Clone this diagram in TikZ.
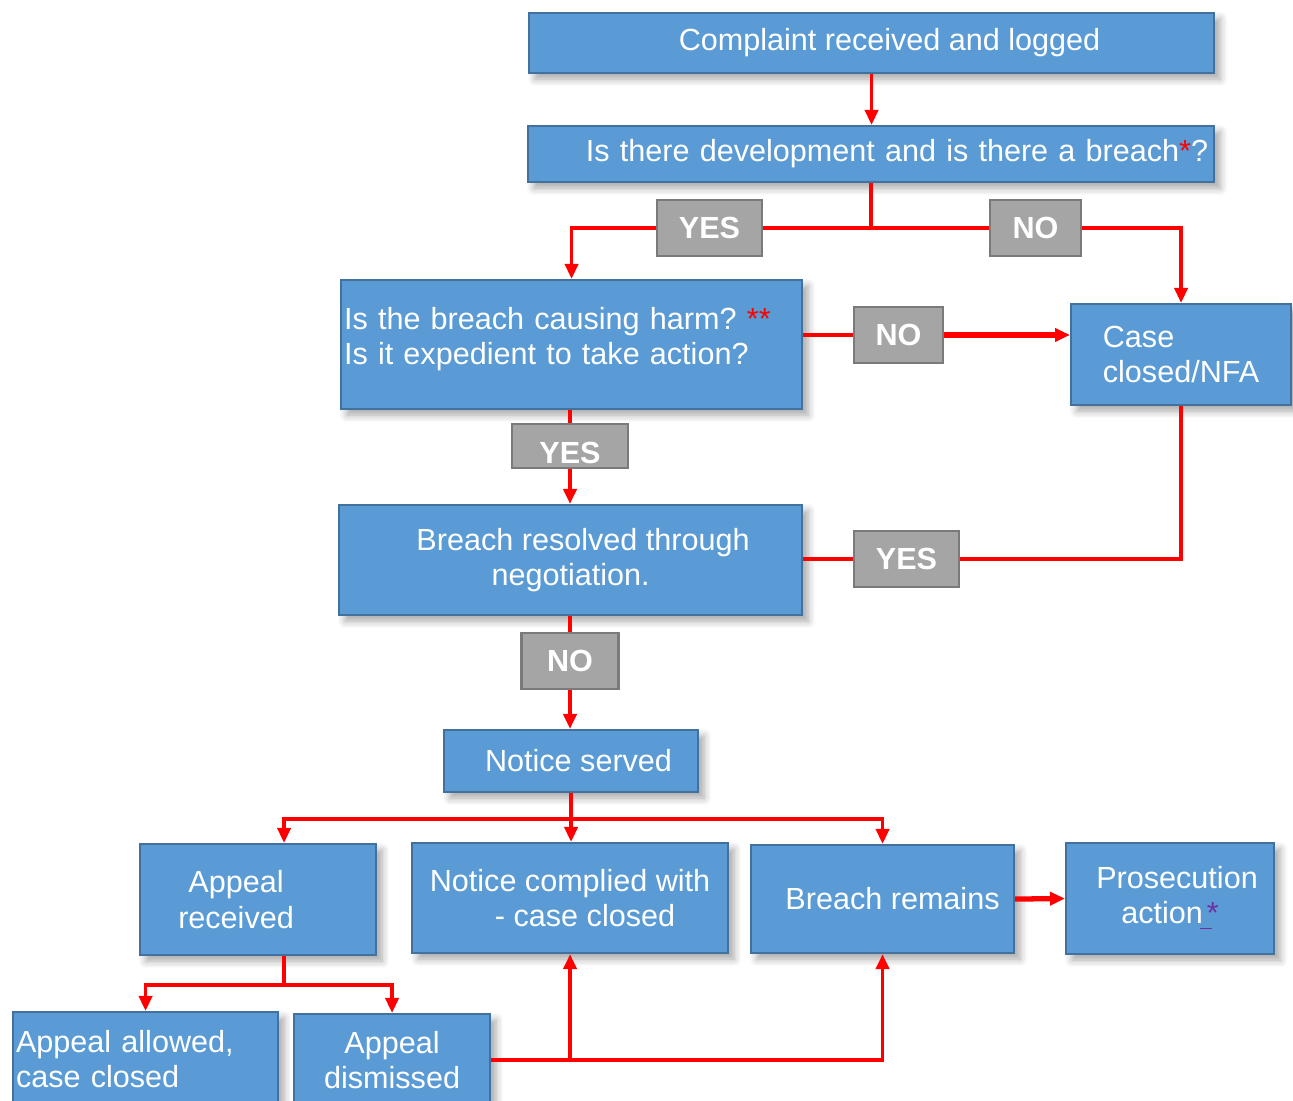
\documentclass[tikz,border=0pt]{standalone}
\usepackage{fontspec}
\setmainfont{Liberation Sans}
\frenchspacing
\usepackage{tikz}
\usetikzlibrary{positioning,arrows.meta,shadows.blur}

\definecolor{boxblue}{HTML}{5B9BD5}
\definecolor{boxline}{HTML}{41719C}
\definecolor{answergray}{HTML}{A5A5A5}
\definecolor{answerline}{HTML}{7A7A7A}
\definecolor{flowred}{HTML}{FF0000}
\definecolor{linkpurple}{HTML}{7030A0}

\tikzset{
  stepbox/.style={draw=boxline, fill=boxblue, line width=0.6pt, text=white,
    font=\fontsize{8.7}{10}\selectfont, anchor=north west, inner xsep=0.03cm,
    align=center,
    blur shadow={shadow xshift=0.06cm, shadow yshift=-0.06cm, shadow opacity=35, shadow blur steps=6}},
  answer/.style={draw=answerline, fill=answergray, line width=0.6pt, text=white,
    font=\fontsize{8.7}{10}\selectfont\bfseries, inner sep=0pt},
  flow/.style={draw=flowred, line width=1.1pt},
  flowarrow/.style={flow, -{Triangle[length=0.15cm,width=0.13cm]}},
}

\begin{document}
\begin{tikzpicture}
  \path[use as bounding box] (0,0) rectangle (12.93,-11.01);
  \clip (0,0) rectangle (12.93,-11.01);

  % main steps
  \node[stepbox, minimum width=6.85cm, minimum height=0.60cm] (complaint) at (5.28,-0.12) {\hspace*{0.36cm}Complaint received and logged};
  \node[stepbox, minimum width=6.86cm, minimum height=0.56cm, inner xsep=0.06cm, text width=6.74cm, align=right] (question) at (5.27,-1.25) {Is there development and is there a breach{\color{flowred}*}?};
  \node[stepbox, minimum width=4.61cm, minimum height=1.29cm, text width=4.55cm, text depth=0.52cm, align=left] (harm) at (3.40,-2.79) {Is the breach causing harm? {\color{flowred}**}\\Is it expedient to take action?};
  \node[stepbox, minimum width=2.20cm, minimum height=1.01cm, align=left] (closed) at (10.70,-3.03) {Case\\closed/NFA};
  \node[stepbox, minimum width=4.63cm, minimum height=1.10cm] (resolved) at (3.38,-5.04) {\hspace*{0.25cm}Breach resolved through\\negotiation.};
  \node[stepbox, minimum width=2.54cm, minimum height=0.62cm] (notice) at (4.43,-7.29) {\hspace*{0.15cm}Notice served};

  % outcomes of the notice
  \node[stepbox, minimum width=2.36cm, minimum height=1.11cm] (appeal) at (1.39,-8.43) {Appeal\hspace*{0.44cm}\\received\hspace*{0.44cm}};
  \node[stepbox, minimum width=3.16cm, minimum height=1.10cm] (complied) at (4.11,-8.42) {Notice complied with\\\hspace*{0.3cm}- case closed};
  \node[stepbox, minimum width=2.63cm, minimum height=1.08cm] (remains) at (7.50,-8.44) {\hspace*{0.2cm}Breach remains};
  \node[stepbox, minimum width=2.08cm, minimum height=1.11cm] (prosecution) at (10.65,-8.42) {\hspace*{0.14cm}Prosecution\\action\textcolor{linkpurple}{\hspace{-0.03cm}\underline{\hspace{0.12cm}}\hspace{-0.05cm}*}};
  \node[stepbox, minimum width=2.65cm, minimum height=0.94cm, text width=2.59cm, align=left] (allowed) at (0.12,-10.11) {Appeal allowed,\\case closed};
  \node[stepbox, minimum width=1.96cm, minimum height=0.92cm] (dismissed) at (2.93,-10.13) {Appeal\\dismissed};

  % answers
  \node[answer, minimum width=1.05cm, minimum height=0.56cm] (yes1) at (7.095,-2.28) {YES};
  \node[answer, minimum width=0.91cm, minimum height=0.56cm] (no1) at (10.355,-2.28) {NO};
  \node[answer, minimum width=0.89cm, minimum height=0.56cm] (no2) at (8.985,-3.35) {NO};
  \node[answer, minimum width=1.16cm, minimum height=0.44cm, text height=0.35cm, text depth=0cm] (yes2) at (5.70,-4.46) {YES};
  \node[answer, minimum width=1.05cm, minimum height=0.56cm] (yes3) at (9.065,-5.59) {YES};
  \node[answer, minimum width=0.97cm, minimum height=0.56cm] (no3) at (5.70,-6.61) {NO};

  \coordinate (split) at (question.south |- yes1);
  \coordinate (fan) at ([yshift=-0.26cm]notice.south);
  \coordinate (appealtop) at ([xshift=0.26cm]appeal.north);
  \coordinate (appealbottom) at ([xshift=0.26cm]appeal.south);
  \coordinate (branch) at ([yshift=-0.29cm]appealbottom);
  \coordinate (merge) at (complied.south |- dismissed.east);

  %complaint>question
  \draw[flowarrow] (complaint.south) -- (complaint.south |- question.north);

  %question>yes/no
  \draw[flow] (question.south) -- (split);
  \draw[flow] (split) -- (yes1.east);
  \draw[flowarrow] (yes1.west) -| (harm.north);
  \draw[flow] (split) -- (no1.west);
  \draw[flowarrow] (no1.east) -| (closed.north);

  %harm>closed, harm>resolved
  \draw[flow] (no2.west -| harm.east) -- (no2.west);
  \draw[flowarrow, line width=1.5pt] (no2.east) -- (no2.east -| closed.west);
  \draw[flow] (harm.south -| yes2.north) -- (yes2.north);
  \draw[flowarrow] (yes2.south) -- (yes2.south |- resolved.north);

  %closed>resolved
  \draw[flow] (closed.south) |- (yes3.east);
  \draw[flow] (yes3.west) -- (yes3.west -| resolved.east);

  %resolved>notice
  \draw[flow] (resolved.south -| no3.north) -- (no3.north);
  \draw[flowarrow] (no3.south) -- (no3.south |- notice.north);

  %notice>outcomes
  \draw[flow] (notice.south) -- (fan);
  \draw[flowarrow] (fan) -| (appealtop);
  \draw[flowarrow] (fan) -- (fan |- complied.north);
  \draw[flowarrow] (fan) -| (remains.north);

  %appeal>allowed/dismissed
  \draw[flow] (appealbottom) -- (branch);
  \draw[flowarrow] (branch) -| (allowed.north);
  \draw[flowarrow] (branch) -| (dismissed.north);

  %dismissed>complied/remains
  \draw[flowarrow] (dismissed.east) -| (remains.south);
  \draw[flowarrow] (merge) -- (complied.south);
  \draw[flowarrow, line width=1.5pt] (remains.east) -- (prosecution.west);
\end{tikzpicture}
\end{document}
